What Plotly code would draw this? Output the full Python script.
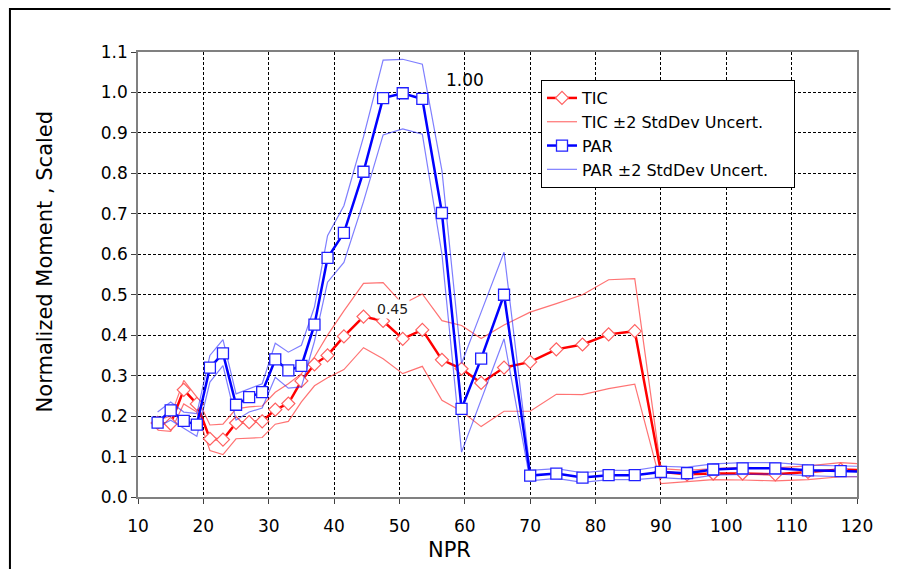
""" Normalized moment vs NPR for TIC and PAR, with +/-2 StdDev bands """
import plotly.graph_objects as go

# NPR stations (shared by both series)
npr = [13, 15, 17, 19, 21, 23, 25, 27, 29, 31, 33, 35, 37, 39, 41.5, 44.5,
       47.5, 50.5, 53.5, 56.5, 59.5, 62.5, 66, 70, 74, 78, 82, 86, 90, 94,
       98, 102.5, 107.5, 112.5, 117.5, 122.5]

tic = [0.183, 0.181, 0.265, 0.230, 0.144, 0.142, 0.183, 0.185, 0.187, 0.216,
       0.231, 0.287, 0.328, 0.350, 0.397, 0.446, 0.435, 0.391, 0.413, 0.339,
       0.317, 0.282, 0.320, 0.334, 0.365, 0.377, 0.402, 0.410, 0.062, 0.056,
       0.058, 0.058, 0.056, 0.062, 0.068, 0.066]
tic_hi = [0.190, 0.200, 0.288, 0.247, 0.178, 0.180, 0.218, 0.223, 0.225, 0.259,
          0.280, 0.305, 0.346, 0.400, 0.460, 0.528, 0.530, 0.477, 0.502, 0.436,
          0.424, 0.392, 0.425, 0.457, 0.478, 0.500, 0.537, 0.540, 0.070, 0.066,
          0.070, 0.073, 0.072, 0.077, 0.085, 0.080]
tic_lo = [0.165, 0.162, 0.230, 0.210, 0.115, 0.105, 0.144, 0.145, 0.147, 0.180,
          0.187, 0.235, 0.275, 0.295, 0.315, 0.369, 0.342, 0.305, 0.323, 0.239,
          0.212, 0.174, 0.212, 0.212, 0.254, 0.253, 0.268, 0.279, 0.033, 0.038,
          0.043, 0.042, 0.040, 0.043, 0.050, 0.050]

par = [0.184, 0.214, 0.188, 0.179, 0.320, 0.355, 0.228, 0.247, 0.259, 0.340,
       0.313, 0.324, 0.426, 0.591, 0.653, 0.804, 0.986, 0.998, 0.984, 0.702,
       0.218, 0.342, 0.500, 0.053, 0.058, 0.048, 0.054, 0.054, 0.062, 0.059,
       0.068, 0.071, 0.071, 0.066, 0.064, 0.062]
par_hi = [0.210, 0.235, 0.210, 0.206, 0.350, 0.389, 0.255, 0.268, 0.280, 0.380,
          0.358, 0.375, 0.470, 0.646, 0.720, 0.890, 1.080, 1.082, 1.070, 0.807,
          0.330, 0.457, 0.605, 0.066, 0.070, 0.060, 0.066, 0.066, 0.076, 0.074,
          0.082, 0.085, 0.085, 0.079, 0.077, 0.075]
par_lo = [0.173, 0.190, 0.170, 0.150, 0.284, 0.325, 0.190, 0.210, 0.220, 0.296,
          0.269, 0.272, 0.385, 0.531, 0.580, 0.730, 0.895, 0.910, 0.897, 0.600,
          0.111, 0.241, 0.391, 0.040, 0.046, 0.036, 0.043, 0.043, 0.048, 0.044,
          0.054, 0.056, 0.057, 0.053, 0.050, 0.050]

y_ticks = [0.0, 0.1, 0.2, 0.3, 0.4, 0.5, 0.6, 0.7, 0.8, 0.9, 1.0, 1.1]
x_ticks = [10, 20, 30, 40, 50, 60, 70, 80, 90, 100, 110, 120]

FONT = "DejaVu Sans"
RED, RED_BAND = "#FF0000", "rgba(255,40,40,0.65)"
BLUE, BLUE_BAND = "#0000FF", "rgba(40,40,255,0.6)"
PAD = "\u00a0" * 4  # widens the legend box a little

fig = go.Figure()

# bands first so the main series sit on top; one legend group per entry
fig.add_trace(go.Scatter(x=npr, y=tic_hi, mode="lines", name="TIC ±2 StdDev Uncert.",
                         line=dict(color=RED_BAND, width=1.2),
                         legendgroup="b", legendrank=2))
fig.add_trace(go.Scatter(x=npr, y=tic_lo, mode="lines", showlegend=False,
                         line=dict(color=RED_BAND, width=1.2), legendgroup="b"))
fig.add_trace(go.Scatter(x=npr, y=tic, mode="lines+markers", name="TIC",
                         line=dict(color=RED, width=2.5),
                         marker=dict(symbol="diamond", size=10, color="white",
                                     line=dict(color="#FF6060", width=1.2)),
                         legendgroup="a", legendrank=1))
fig.add_trace(go.Scatter(x=npr, y=par_hi, mode="lines",
                         name="PAR ±2 StdDev Uncert." + PAD,
                         line=dict(color=BLUE_BAND, width=1.2),
                         legendgroup="d", legendrank=4))
fig.add_trace(go.Scatter(x=npr, y=par_lo, mode="lines", showlegend=False,
                         line=dict(color=BLUE_BAND, width=1.2), legendgroup="d"))
fig.add_trace(go.Scatter(x=npr, y=par, mode="lines+markers", name="PAR",
                         line=dict(color=BLUE, width=2.5),
                         marker=dict(symbol="square", size=11, color="white",
                                     line=dict(color="#2020FF", width=1.3)),
                         legendgroup="c", legendrank=3))

axis_common = dict(showgrid=True, gridcolor="black", griddash="3px,2px", gridwidth=1,
                   showline=True, linecolor="#808080", linewidth=1.5, mirror=True,
                   ticks="outside", ticklen=5, tickcolor="#404040",
                   tickfont=dict(family=FONT, size=17, color="black"),
                   zeroline=False)

# the page body adds an 8px offset, so the figure is trimmed to avoid scrollbars
fig.update_layout(
    width=883, height=561,
    margin=dict(l=130, r=34, t=44, b=72),
    paper_bgcolor="white", plot_bgcolor="white",
    font=dict(family=FONT, color="black"),
    xaxis=dict(range=[10, 120], tickvals=x_ticks, ticklabelstandoff=8, **axis_common),
    yaxis=dict(range=[0, 1.1], tickvals=y_ticks, tickformat=".1f", **axis_common),
    legend=dict(x=0.5605, y=0.937, xanchor="left", yanchor="top",
                bgcolor="white", bordercolor="black", borderwidth=1,
                font=dict(family=FONT, size=16, color="black"),
                traceorder="grouped", tracegroupgap=0),
    showlegend=True,
)

fig.add_annotation(text="Normalized Moment , Scaled", xref="paper", yref="paper",
                   x=-0.129, y=0.53, xanchor="center", yanchor="middle",
                   textangle=-90, showarrow=False,
                   font=dict(family=FONT, size=21, color="black"))
fig.add_annotation(text="NPR", xref="paper", yref="paper", x=0.433, y=-0.118,
                   xanchor="center", yanchor="middle", showarrow=False,
                   font=dict(family=FONT, size=21, color="black"))
fig.add_annotation(text="1.00", x=60, y=1.03, showarrow=False,
                   font=dict(family=FONT, size=17, color="black"))
fig.add_annotation(text="0.45", x=49, y=0.465, showarrow=False, bgcolor="white",
                   font=dict(family=FONT, size=14, color="#202020"))

# outer chart frame (left and top edges visible in the source) as thin filled strips
fig.add_shape(type="rect", xref="paper", yref="paper", x0=-0.179, x1=1.0465,
              y0=1.0945, y1=1.099, fillcolor="black", line=dict(width=0),
              layer="above")
fig.add_shape(type="rect", xref="paper", yref="paper", x0=-0.1795, x1=-0.1767,
              y0=-0.162, y1=1.099, fillcolor="black", line=dict(width=0),
              layer="above")

fig.write_html("out.html")
